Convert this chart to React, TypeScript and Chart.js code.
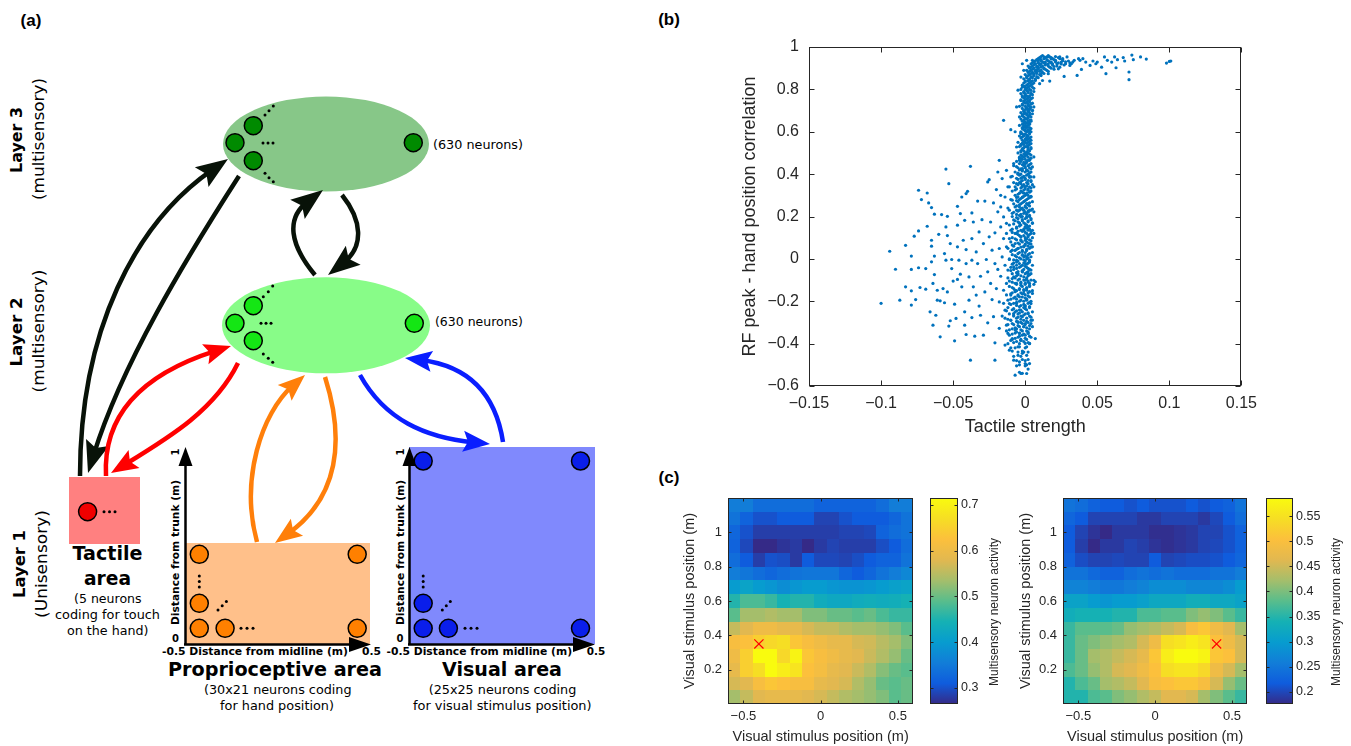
import React, { useEffect, useRef } from "react";
import { Chart, registerables } from "chart.js";

Chart.register(...registerables);

// ================= (b) scatter data =================
const scatterXTicks = [-0.15, -0.1, -0.05, 0, 0.05, 0.1, 0.15];
const scatterYTicks = [-0.6, -0.4, -0.2, 0, 0.2, 0.4, 0.6, 0.8, 1];

// [tactile strength, RF peak - hand position correlation]
const spreadPoints: [number, number][] = [
  [-0.1,-0.21],[-0.094,0.036],[-0.09,-0.049],[-0.087,-0.195],[-0.083,0.064],[-0.083,-0.132],[-0.079,0.013],[-0.079,-0.05],[-0.079,-0.151],[-0.079,-0.218],
  [-0.077,0.107],[-0.076,-0.192],[-0.074,0.324],[-0.074,0.132],[-0.074,-0.042],[-0.072,0.28],[-0.073,-0.135],[-0.069,-0.143],[-0.069,-0.046],[-0.068,0.311],
  [-0.068,0.154],[-0.067,0.264],[-0.066,-0.25],[-0.065,-0.014],[-0.065,0.06],[-0.065,0.088],[-0.065,0.242],[-0.064,-0.313],[-0.064,-0.116],[-0.063,0.013],
  [-0.063,0.211],[-0.063,-0.074],[-0.062,-0.266],[-0.061,-0.148],[-0.061,-0.195],[-0.06,0.116],[-0.059,-0.368],[-0.059,-0.198],[-0.058,0.209],[-0.057,-0.14],
  [-0.056,-0.207],[-0.056,0.025],[-0.055,0.424],[-0.055,0.151],[-0.055,-0.006],[-0.054,0.11],[-0.054,0.201],[-0.054,-0.156],[-0.053,-0.317],[-0.053,0.355],
  [-0.052,0.072],[-0.052,-0.292],[-0.051,-0.046],[-0.051,-0.003],[-0.05,-0.105],[-0.049,-0.214],[-0.049,-0.387],[-0.048,-0.281],[-0.047,0.248],[-0.047,-0.097],
  [-0.047,0.159],[-0.047,0.057],[-0.046,-0.006],[-0.045,-0.072],[-0.045,0.214],[-0.044,0.292],[-0.044,-0.132],[-0.043,0.088],[-0.042,-0.25],[-0.042,-0.313],
  [-0.042,0.182],[-0.041,-0.022],[-0.041,0.044],[-0.041,-0.357],[-0.041,0.308],[-0.04,0.319],[-0.039,-0.195],[-0.039,-0.085],[-0.038,0.437],[-0.038,-0.478],
  [-0.037,0.217],[-0.037,-0.006],[-0.037,-0.277],[-0.037,0.096],[-0.036,-0.132],[-0.036,0.174],[-0.035,-0.365],[-0.034,-0.171],[-0.034,0.033],[-0.033,-0.022],
  [-0.033,0.273],[-0.032,0.127],[-0.032,-0.223],[-0.031,-0.082],[-0.031,-0.266],[-0.03,0.185],[-0.029,0.072],[-0.029,-0.36],[-0.028,-0.156],[-0.028,0.273],
  [-0.027,-0.003],[-0.026,0.363],[-0.026,-0.061],[-0.026,-0.302],[-0.025,0.104],[-0.025,0.374],[-0.024,0.174],[-0.024,-0.116],[-0.023,-0.192],[-0.023,0.041],
  [-0.022,0.264],[-0.022,-0.273],[-0.021,-0.478],[-0.021,-0.022],[-0.021,0.123],[-0.021,-0.396],[-0.02,0.327],[-0.02,-0.14],[-0.019,0.41],[-0.019,0.222],
  [-0.019,-0.05],[-0.018,0.049],[-0.018,-0.328],[-0.018,0.465],[-0.018,-0.203],[-0.017,0.151],[-0.017,0.3],[-0.017,-0.082],[-0.017,0.245],[-0.016,0.379],
  [-0.016,0.009],[-0.016,-0.27],[-0.015,0.096],[-0.015,-0.148],[-0.015,0.654],[-0.015,0.198],[-0.014,-0.03],[-0.014,-0.407],[-0.014,0.292],[-0.014,-0.242],
  [-0.013,0.418],[-0.013,0.057],[-0.013,-0.116],[-0.013,-0.313],[-0.013,0.168],[-0.012,-0.352],[-0.012,0.34],[-0.012,-0.053],[-0.011,-0.211],[-0.011,0.23],
  [-0.011,0.096],[-0.011,-0.431],[-0.011,-0.003],[-0.01,-0.171],[-0.01,0.387],[-0.01,-0.289],[-0.01,0.61],[-0.01,0.135],[-0.009,-0.093],[-0.009,0.277],
  [-0.009,-0.376],[-0.009,0.041],[-0.008,0.45],[-0.008,-0.258],[-0.008,0.184],[-0.008,-0.038],[-0.008,-0.478],[-0.007,0.6],[-0.007,-0.148],[-0.007,0.072],
  [-0.007,-0.549],[-0.007,0.34],[-0.007,-0.336],[-0.006,0.717],[-0.006,0.23],[-0.006,-0.006],[-0.006,-0.211],[-0.006,0.528],[-0.006,0.12],[-0.006,-0.116],
  [-0.005,0.402],[-0.005,-0.415],[-0.005,-0.297],[-0.005,0.292],[-0.005,0.796],[-0.005,-0.069],[-0.005,0.049],[-0.004,0.168],[-0.004,-0.486],[-0.004,0.67],
  [-0.004,-0.179],[-0.004,0.473],[-0.004,-0.352],[-0.004,0.245],[-0.004,-0.022],[-0.003,0.858],[-0.003,-0.242],[-0.003,0.104],[-0.003,0.355],[-0.003,0.591],
  [-0.003,-0.116],[-0.003,-0.541],[-0.003,0.198],[-0.003,-0.384],[-0.003,0.748],[-0.002,0.017],[-0.002,0.426],[-0.002,-0.273],[-0.002,0.921],[-0.002,0.292],
  [-0.002,-0.061],[-0.002,0.544],[-0.002,-0.446],[-0.001,0.135],[-0.001,-0.163],[-0.001,0.685],[-0.001,0.387],[-0.001,-0.32],[-0.001,0.057],[-0.001,0.89],
  [-0.001,0.23],[0,-0.494],[0,-0.101],[0,0.497],[0,0.622],[0,0.151],[0,-0.226],[0,0.811],[0,0.34],[0,-0.022],[0,-0.399],[0,0.45],[0,0.088],[0,-0.305],[0,0.764],
  [0.001,0.261],[0.001,-0.148],[0.001,0.575],[0.001,-0.541],[0.001,0.937],[0.001,0.198],[0.001,0.009],[0.001,0.418],[0.001,-0.195],[0.002,0.701],
  [0.002,-0.352],[0.002,0.135],[0.002,0.528],[0.002,-0.069],[0.002,0.842],[0.002,0.324],[0.002,-0.258],[0.003,0.654],[0.003,0.072],[0.003,-0.494],
  [0.003,0.465],[0.003,-0.116],[0.003,0.905],[0.003,0.23],[0.003,-0.399],[0.003,0.606],[0.003,-0.006],[0.004,0.387],[0.004,-0.211],[0.004,0.78],
  [0.004,0.12],[0.004,-0.305],[0.004,0.292],[0.004,0.544],[0.004,-0.053],[0.005,0.168],[0.005,0.937],[0.005,0.434],[0.005,-0.163],[0.005,0.701],
  [0.005,0.057],[0.005,-0.289],[0.006,0.34],[0.006,0.874],[0.006,-0.101],[0.006,0.222],[0.006,0.481],[0.006,0.12],[0.006,0.387],[0.006,0.717],
  [0.007,-0.376],[0.007,-0.108],[0.007,0.921],[0.007,0.842],[0.008,0.89],[0.009,0.937],[0.009,0.905],[0.01,0.827],[0.01,0.945],[0.011,0.874],
  [0.011,0.921],[0.012,0.842],[0.013,0.953],[0.013,0.897],[0.014,0.929],[0.015,0.953],[0.016,0.874],[0.016,0.921],[0.017,0.839],[0.017,0.953],
  [0.018,0.929],[0.019,0.945],[0.02,0.908],[0.021,0.937],[0.022,0.921],[0.023,0.897],[0.024,0.953],[0.025,0.929],[0.026,0.945],[0.027,0.861],
  [0.028,0.921],[0.029,0.953],[0.03,0.934],[0.031,0.913],[0.032,0.921],[0.033,0.929],[0.034,0.937],[0.036,0.866],[0.037,0.945],[0.038,0.937],
  [0.039,0.894],[0.04,0.945],[0.042,0.929],[0.045,0.913],[0.047,0.934],[0.049,0.921],[0.05,0.929],[0.053,0.905],[0.055,0.953],[0.056,0.874],
  [0.057,0.937],[0.06,0.929],[0.062,0.953],[0.063,0.902],[0.064,0.94],[0.068,0.95],[0.069,0.934],[0.072,0.882],[0.072,0.846],[0.074,0.962],
  [0.075,0.94],[0.08,0.953],[0.084,0.943],[0.098,0.924],[0.1,0.932],[0.101,0.934],
];

// dense column near zero: [correlation, tactile strengths at that correlation]
const columnRows: [number, number[]][] = [
  [-0.54,[-0.002]],[-0.52,[0.002]],[-0.5,[-0.004,0.001]],[-0.48,[-0.006,0]],[-0.46,[-0.003,-0.008]],
  [-0.44,[0.002,-0.005,-0.001]],[-0.42,[-0.007,0,-0.01]],[-0.4,[-0.004,0.003,-0.012]],[-0.39,[-0.001,-0.006]],
  [-0.38,[0.001,-0.009,-0.003]],[-0.37,[-0.005,0.004]],[-0.36,[-0.002,-0.011,0]],[-0.35,[-0.007,0.002,-0.004]],
  [-0.34,[0.001,-0.013,-0.002]],[-0.33,[-0.006,0.003,-0.009]],[-0.32,[-0.001,-0.004,0.005]],[-0.31,[-0.008,0,-0.012]],
  [-0.3,[0.002,-0.005,-0.003]],[-0.29,[-0.01,0.004,-0.001]],[-0.28,[-0.006,0.001,-0.014]],[-0.27,[-0.003,0.003,-0.008]],
  [-0.26,[0,-0.011,-0.005]],[-0.25,[-0.002,0.005,-0.007]],[-0.24,[-0.009,0.001,-0.004]],[-0.23,[0.003,-0.001,-0.012]],
  [-0.22,[-0.006,0,-0.003]],[-0.21,[0.002,-0.008,-0.015]],[-0.2,[-0.004,0.004,-0.001]],[-0.19,[-0.01,0.001,-0.006]],
  [-0.18,[0.003,-0.002,-0.007]],[-0.17,[-0.005,0,-0.013]],[-0.16,[0.002,-0.009,-0.003]],[-0.15,[-0.001,0.005,-0.006]],
  [-0.14,[-0.008,0.001,-0.004]],[-0.13,[0.003,-0.002,-0.011]],[-0.12,[-0.006,0,0.006]],[-0.11,[-0.003,0.002,-0.009]],
  [-0.1,[0.004,-0.005,-0.001]],[-0.09,[-0.007,0.001,-0.012]],[-0.08,[0.002,-0.003,-0.006]],[-0.07,[-0.009,0,0.004]],
  [-0.06,[-0.002,-0.005,0.002]],[-0.05,[0.003,-0.008,-0.001]],[-0.04,[-0.004,0.001,-0.01]],[-0.03,[0.005,-0.002,-0.006]],
  [-0.02,[-0.001,0.002,-0.008]],[-0.01,[-0.005,0.003,0]],[0,[-0.003,0.001,-0.011]],[0.01,[0.004,-0.006,-0.001]],
  [0.02,[-0.002,0.002,-0.009]],[0.03,[0,-0.004,0.005]],[0.04,[-0.007,0.001,-0.002]],[0.05,[0.003,-0.005,-0.012]],
  [0.06,[-0.001,0.002,-0.008]],[0.07,[-0.004,0.004,0]],[0.08,[-0.01,-0.002,0.001]],[0.09,[0.003,-0.006,-0.003]],
  [0.1,[0,-0.009,0.005]],[0.11,[-0.004,0.002,-0.001]],[0.12,[-0.007,0.001,-0.013]],[0.13,[0.004,-0.002,-0.005]],
  [0.14,[-0.001,0.003,-0.009]],[0.15,[-0.006,0,0.002]],[0.16,[0.001,-0.003,-0.011]],[0.17,[-0.004,0.005,-0.001]],
  [0.18,[0.002,-0.007,-0.002]],[0.19,[-0.005,0,0.004]],[0.2,[-0.002,0.003,-0.009]],[0.21,[0.001,-0.006,-0.003]],
  [0.22,[-0.008,0.002,0]],[0.23,[0.004,-0.004,-0.001]],[0.24,[-0.002,0.001,-0.012]],[0.25,[-0.006,0.003,0]],
  [0.26,[0.002,-0.003,-0.008]],[0.27,[-0.001,0.005,-0.005]],[0.28,[-0.004,0.001,-0.01]],[0.29,[0.003,-0.002,-0.006]],
  [0.3,[-0.007,0,0.002]],[0.31,[0.001,-0.004,-0.001]],[0.32,[-0.003,0.004,-0.009]],[0.33,[0,-0.006,0.002]],
  [0.34,[-0.002,0.003,-0.011]],[0.35,[0.005,-0.005,-0.001]],[0.36,[-0.004,0.001,-0.008]],[0.37,[0.002,-0.002,0.004]],
  [0.38,[-0.006,0,-0.003]],[0.39,[0.003,-0.001,-0.009]],[0.4,[-0.003,0.002,-0.005]],[0.41,[0,0.004,-0.007]],
  [0.42,[-0.002,0.001,-0.004]],[0.43,[0.003,-0.005,0]],[0.44,[-0.001,0.002,-0.008]],[0.45,[-0.004,0.004,0]],
  [0.46,[0.001,-0.003,-0.006]],[0.47,[-0.002,0.003,0]],[0.48,[0.002,-0.004,-0.001]],[0.49,[-0.003,0.001,0.004]],
  [0.5,[0,-0.005,0.002]],[0.51,[-0.001,0.003,-0.003]],[0.52,[0.002,-0.002,0.004]],[0.53,[-0.004,0.001,0]],
  [0.54,[0.003,-0.001,-0.003]],[0.55,[0,0.002,-0.005]],[0.56,[-0.002,0.004,0.001]],[0.57,[0.001,-0.003,0.003]],
  [0.58,[-0.001,0.002,-0.004]],[0.59,[0.003,0,-0.002]],[0.6,[-0.003,0.001,0.004]],[0.61,[0.002,-0.001,0]],
  [0.62,[-0.002,0.003,0.001]],[0.63,[0,-0.004,0.002]],[0.64,[0.003,-0.001,0.001]],[0.65,[-0.002,0.002,0.004]],
  [0.66,[0.001,-0.003,0]],[0.67,[0.002,-0.001,0.004]],[0.68,[-0.002,0.001,0.003]],[0.69,[0,0.003,-0.003]],
  [0.7,[0.002,-0.001,0.005]],[0.71,[-0.002,0.001,0.003]],[0.72,[0,0.003,-0.004]],[0.73,[0.002,-0.002,0.004]],
  [0.74,[-0.001,0.001,0.003]],[0.75,[0.003,-0.003,0]],[0.76,[-0.001,0.002,0.005]],[0.77,[0.001,-0.002,0.003]],
  [0.78,[-0.003,0,0.004]],[0.79,[0.002,-0.001,0.006]],[0.8,[0,-0.003,0.003]],[0.81,[-0.002,0.002,0.005]],
  [0.82,[0.001,-0.002,0.004]],[0.83,[-0.001,0.003,0.006]],[0.84,[0.002,0,0.005]],[0.85,[-0.001,0.003,0.007]],
  [0.86,[0.001,0.004,0.008]],[0.87,[0,0.003,0.006,0.01]],[0.88,[0.002,0.005,0.008,0.012]],
  [0.89,[0.001,0.004,0.007,0.011,0.015]],[0.9,[0.003,0.006,0.009,0.013,0.018]],
  [0.91,[0.002,0.005,0.008,0.012,0.016,0.022]],[0.92,[0.004,0.007,0.01,0.014,0.019,0.025]],
  [0.93,[0.006,0.009,0.012,0.017,0.021,0.028]],[0.94,[0.008,0.011,0.015,0.02,0.026]],
  [0.95,[0.01,0.014,0.018,0.023]],[0.96,[0.012,0.016]],
];

// second interleaved set of column points
const columnRowsB: [number, number[]][] = [
  [-0.535,[-0.004]],[-0.505,[0,-0.006]],[-0.475,[-0.002,0.002]],[-0.455,[-0.005,0.001]],[-0.435,[-0.009,-0.002]],
  [-0.415,[0.001,-0.004]],[-0.395,[-0.008,0.002]],[-0.385,[-0.003,-0.01]],[-0.375,[0,-0.007]],[-0.365,[-0.004,0.003]],
  [-0.355,[-0.009,-0.001]],[-0.345,[0.002,-0.006]],[-0.335,[-0.003,-0.011]],[-0.325,[0.001,-0.007]],[-0.315,[-0.005,0.003]],
  [-0.305,[-0.002,-0.009]],[-0.295,[0.001,-0.006]],[-0.285,[-0.003,-0.012]],[-0.275,[0.004,-0.005]],[-0.265,[-0.008,-0.001]],
  [-0.255,[0.002,-0.004]],[-0.245,[-0.006,-0.013]],[-0.235,[0,-0.008]],[-0.225,[-0.004,0.003]],[-0.215,[-0.001,-0.01]],
  [-0.205,[0.003,-0.006]],[-0.195,[-0.003,-0.012]],[-0.185,[0,-0.008]],[-0.175,[-0.005,0.002]],[-0.165,[-0.002,-0.01]],
  [-0.155,[0.003,-0.007]],[-0.145,[-0.004,-0.001]],[-0.135,[0.001,-0.009]],[-0.125,[-0.003,0.003]],[-0.115,[-0.007,0]],
  [-0.105,[0.002,-0.011]],[-0.095,[-0.004,0.001]],[-0.085,[-0.001,-0.008]],[-0.075,[0.003,-0.005]],[-0.065,[-0.006,0.001]],
  [-0.055,[-0.002,-0.01]],[-0.045,[0.002,-0.006]],[-0.035,[-0.003,0]],[-0.025,[0.001,-0.009]],[-0.015,[-0.006,0.003]],
  [-0.005,[-0.001,-0.008]],[0.005,[0.002,-0.004]],[0.015,[-0.007,0]],[0.025,[0.003,-0.005]],[0.035,[-0.002,-0.01]],
  [0.045,[0.001,-0.006]],[0.055,[-0.003,0.004]],[0.065,[-0.009,0]],[0.075,[0.002,-0.005]],[0.085,[-0.003,0.004]],
  [0.095,[-0.007,0.001]],[0.105,[0.002,-0.003]],[0.115,[-0.005,0.003]],[0.125,[0,-0.009]],[0.135,[-0.003,0.005]],
  [0.145,[0.001,-0.006]],[0.155,[-0.004,0.003]],[0.165,[-0.008,0]],[0.175,[0.002,-0.005]],[0.185,[-0.002,0.004]],
  [0.195,[-0.006,0.001]],[0.205,[0.003,-0.004]],[0.215,[-0.001,-0.009]],[0.225,[0.002,-0.005]],[0.235,[-0.003,0.005]],
  [0.245,[0,-0.007]],[0.255,[-0.004,0.002]],[0.265,[0.003,-0.002]],[0.275,[-0.006,0]],[0.285,[0.002,-0.003]],
  [0.295,[-0.001,0.004]],[0.305,[-0.005,0.001]],[0.315,[0.003,-0.002]],[0.325,[-0.001,-0.007]],[0.335,[0.004,-0.003]],
  [0.345,[-0.002,0.001]],[0.355,[0.002,-0.006]],[0.365,[-0.003,0.004]],[0.375,[0,-0.005]],[0.385,[-0.002,0.003]],
  [0.395,[0.001,-0.004]],[0.405,[-0.005,0.003]],[0.415,[0.002,-0.002]],[0.425,[-0.003,0.004]],[0.435,[0,-0.006]],
  [0.445,[0.003,-0.002]],[0.455,[-0.001,0.001]],[0.465,[0.002,-0.004]],[0.475,[-0.003,0.004]],[0.485,[0,-0.002]],
  [0.495,[0.003,-0.001]],[0.505,[-0.003,0.001]],[0.515,[0.002,-0.002]],[0.525,[-0.001,0.004]],[0.535,[0.002,-0.003]],
  [0.545,[-0.002,0.001]],[0.555,[0.003,-0.001]],[0.565,[0,0.002]],[0.575,[-0.002,0.004]],[0.585,[0.001,-0.001]],
  [0.595,[0.003,-0.003]],[0.605,[0,0.002]],[0.615,[-0.002,0.004]],[0.625,[0.001,-0.001]],[0.635,[0.003,-0.002]],
  [0.645,[0,0.002]],[0.655,[-0.001,0.004]],[0.665,[0.002,0]],[0.675,[-0.002,0.003]],[0.685,[0.001,0.005]],
  [0.695,[-0.001,0.002]],[0.705,[0.003,0]],[0.715,[0.001,0.004]],[0.725,[-0.002,0.002]],[0.735,[0,0.005]],
  [0.745,[0.002,-0.001]],[0.755,[0.004,0.001]],[0.765,[-0.002,0.003]],[0.775,[0,0.005]],[0.785,[0.002,-0.001]],
  [0.795,[0.004,0.001]],[0.805,[0.001,0.006]],[0.815,[-0.001,0.003]],[0.825,[0.002,0.005]],[0.835,[0,0.004]],
  [0.845,[0.003,0.007]],[0.855,[0.001,0.005,0.009]],[0.865,[0.002,0.006,0.011]],[0.875,[0.004,0.008,0.013]],
  [0.885,[0.003,0.007,0.01,0.016]],[0.895,[0.005,0.009,0.014,0.02]],[0.905,[0.004,0.008,0.011,0.017,0.024]],
  [0.915,[0.006,0.01,0.014,0.019,0.027]],[0.925,[0.005,0.009,0.013,0.018,0.023,0.031]],
  [0.935,[0.007,0.011,0.016,0.021,0.026]],[0.945,[0.009,0.013,0.018,0.024]],[0.955,[0.011,0.016,0.021]],
];

// ================= (c) heat map data =================
const heatXCenters = [-0.56,-0.48,-0.4,-0.32,-0.24,-0.16,-0.08,0,0.08,0.16,0.24,0.32,0.4,0.48,0.56];
const heatYCenters = [1.16,1.08,1.0,0.92,0.84,0.76,0.68,0.6,0.52,0.44,0.36,0.28,0.2,0.12,0.04];
const heatXTicks = [-0.5, 0, 0.5];
const heatYTicks = [0.2, 0.4, 0.6, 0.8, 1];

const leftActivity = [
  [0.355,0.355,0.333,0.333,0.333,0.333,0.333,0.319,0.319,0.319,0.319,0.319,0.333,0.355,0.355],
  [0.342,0.319,0.301,0.301,0.31,0.31,0.31,0.288,0.288,0.301,0.31,0.31,0.31,0.324,0.342],
  [0.324,0.301,0.283,0.283,0.283,0.283,0.283,0.283,0.283,0.288,0.288,0.292,0.319,0.333,0.342],
  [0.319,0.292,0.265,0.265,0.274,0.279,0.265,0.279,0.288,0.283,0.283,0.283,0.297,0.31,0.333],
  [0.333,0.31,0.283,0.301,0.297,0.279,0.31,0.292,0.292,0.288,0.297,0.31,0.319,0.319,0.342],
  [0.355,0.346,0.333,0.324,0.333,0.342,0.346,0.346,0.346,0.324,0.31,0.324,0.342,0.355,0.369],
  [0.4,0.414,0.4,0.391,0.378,0.391,0.4,0.4,0.391,0.387,0.387,0.391,0.4,0.409,0.414],
  [0.454,0.481,0.481,0.468,0.445,0.454,0.454,0.432,0.423,0.423,0.432,0.436,0.432,0.436,0.445],
  [0.49,0.535,0.535,0.544,0.535,0.535,0.513,0.513,0.499,0.499,0.49,0.499,0.481,0.468,0.468],
  [0.558,0.58,0.603,0.603,0.589,0.589,0.571,0.558,0.558,0.544,0.535,0.535,0.526,0.513,0.49],
  [0.616,0.625,0.648,0.661,0.67,0.634,0.616,0.603,0.589,0.589,0.571,0.567,0.549,0.535,0.513],
  [0.603,0.648,0.715,0.715,0.661,0.702,0.634,0.616,0.603,0.589,0.58,0.562,0.544,0.526,0.499],
  [0.589,0.648,0.67,0.715,0.693,0.679,0.625,0.612,0.589,0.58,0.562,0.544,0.517,0.499,0.49],
  [0.571,0.58,0.616,0.634,0.625,0.616,0.616,0.589,0.58,0.571,0.544,0.526,0.499,0.49,0.499],
  [0.535,0.558,0.58,0.589,0.589,0.589,0.58,0.571,0.558,0.544,0.535,0.526,0.513,0.49,0.499],
];

const rightActivity = [
  [0.246,0.238,0.225,0.217,0.217,0.209,0.217,0.209,0.209,0.209,0.217,0.209,0.217,0.225,0.246],
  [0.229,0.217,0.197,0.197,0.197,0.197,0.188,0.188,0.197,0.197,0.197,0.188,0.201,0.217,0.238],
  [0.217,0.197,0.184,0.176,0.188,0.188,0.188,0.18,0.18,0.184,0.188,0.197,0.197,0.209,0.225],
  [0.217,0.192,0.176,0.188,0.188,0.197,0.192,0.184,0.18,0.184,0.188,0.197,0.201,0.209,0.225],
  [0.225,0.205,0.197,0.197,0.201,0.197,0.197,0.217,0.197,0.201,0.205,0.205,0.209,0.217,0.229],
  [0.246,0.246,0.233,0.225,0.225,0.238,0.246,0.238,0.246,0.238,0.238,0.238,0.246,0.246,0.258],
  [0.266,0.266,0.258,0.25,0.25,0.258,0.266,0.279,0.279,0.279,0.27,0.27,0.27,0.279,0.299],
  [0.311,0.311,0.299,0.291,0.299,0.299,0.307,0.32,0.32,0.32,0.332,0.332,0.32,0.32,0.311],
  [0.332,0.34,0.34,0.34,0.348,0.348,0.373,0.373,0.381,0.381,0.402,0.414,0.402,0.381,0.361],
  [0.361,0.381,0.381,0.381,0.389,0.414,0.422,0.43,0.443,0.455,0.496,0.512,0.484,0.463,0.422],
  [0.361,0.389,0.402,0.414,0.422,0.43,0.455,0.484,0.545,0.553,0.566,0.553,0.504,0.484,0.455],
  [0.361,0.389,0.422,0.43,0.443,0.455,0.471,0.512,0.566,0.586,0.586,0.574,0.512,0.504,0.455],
  [0.373,0.389,0.414,0.43,0.455,0.463,0.484,0.504,0.545,0.553,0.553,0.537,0.484,0.455,0.422],
  [0.348,0.373,0.389,0.422,0.43,0.443,0.463,0.496,0.504,0.512,0.512,0.496,0.455,0.414,0.389],
  [0.348,0.348,0.373,0.381,0.402,0.414,0.43,0.443,0.463,0.463,0.455,0.422,0.402,0.381,0.361],
];

const leftRange = [0.265, 0.715];
const rightRange = [0.176, 0.586];
const leftBarTicks = [0.3, 0.4, 0.5, 0.6, 0.7];
const rightBarTicks = [0.2, 0.25, 0.3, 0.35, 0.4, 0.45, 0.5, 0.55];
const leftPeak = { x: -0.4, y: 0.35 };
const rightPeak = { x: 0.4, y: 0.35 };

// ================= helpers =================
const FONT = "'Liberation Sans', Arial, Helvetica, sans-serif";
const DIAG_FONT = "'DejaVu Sans', sans-serif";
const TXT = "#262626";

const PARULA = [
  [53,42,135],[15,92,221],[18,125,216],[7,156,207],[21,177,180],[89,189,140],
  [165,190,107],[226,184,80],[252,192,60],[246,222,36],[249,251,14],
];
function parula(t: number) {
  const tt = Math.max(0, Math.min(1, t)) * 10;
  const i = Math.min(9, Math.floor(tt));
  const f = tt - i;
  const a = PARULA[i], b = PARULA[i + 1];
  const c = a.map((v, k) => Math.round(v + (b[k] - v) * f));
  return `rgb(${c[0]},${c[1]},${c[2]})`;
}

function fmt(v: number) {
  const r = Math.round(v * 1000) / 1000;
  return (r < 0 ? "\u2212" : "") + String(Math.abs(r));
}

function boxPlugin(xTicks: number[], yTicks: number[], len: number) {
  return {
    id: "box",
    afterDatasetsDraw(chart: any) {
      const { ctx, chartArea: a, scales } = chart;
      const x = scales.x, y = scales.y;
      ctx.save();
      ctx.strokeStyle = TXT;
      ctx.lineWidth = 1;
      const L = Math.round(a.left) + 0.5, R = Math.round(a.right) - 0.5;
      const T = Math.round(a.top) + 0.5, B = Math.round(a.bottom) - 0.5;
      ctx.strokeRect(L, T, R - L, B - T);
      ctx.beginPath();
      for (const v of xTicks) {
        const px = Math.round(x.getPixelForValue(v)) + 0.5;
        ctx.moveTo(px, B); ctx.lineTo(px, B - len);
        ctx.moveTo(px, T); ctx.lineTo(px, T + len);
      }
      for (const v of yTicks) {
        const py = Math.round(y.getPixelForValue(v)) + 0.5;
        ctx.moveTo(L, py); ctx.lineTo(L + len, py);
        ctx.moveTo(R, py); ctx.lineTo(R - len, py);
      }
      ctx.stroke();
      ctx.restore();
    },
  };
}

function heatPlugin(values: number[][], range: number[]) {
  return {
    id: "heatcells",
    beforeDatasetsDraw(chart: any) {
      const { ctx, scales } = chart;
      const x = scales.x, y = scales.y;
      const hw = (heatXCenters[1] - heatXCenters[0]) / 2;
      const hh = (heatYCenters[0] - heatYCenters[1]) / 2;
      ctx.save();
      for (let r = 0; r < heatYCenters.length; r++) {
        for (let c = 0; c < heatXCenters.length; c++) {
          const L = Math.round(x.getPixelForValue(heatXCenters[c] - hw));
          const R = Math.round(x.getPixelForValue(heatXCenters[c] + hw));
          const T = Math.round(y.getPixelForValue(heatYCenters[r] + hh));
          const B = Math.round(y.getPixelForValue(heatYCenters[r] - hh));
          ctx.fillStyle = parula((values[r][c] - range[0]) / (range[1] - range[0]));
          ctx.fillRect(L, T, R - L, B - T);
        }
      }
      ctx.restore();
    },
  };
}

function colorbarPlugin(ticks: number[], labelX: number, labelY: number) {
  return {
    id: "colorbar",
    beforeDatasetsDraw(chart: any) {
      const { ctx, chartArea: a } = chart;
      const g = ctx.createLinearGradient(0, a.bottom, 0, a.top);
      PARULA.forEach((c, i) => g.addColorStop(i / 10, `rgb(${c[0]},${c[1]},${c[2]})`));
      ctx.save();
      ctx.fillStyle = g;
      ctx.fillRect(a.left, a.top, a.right - a.left, a.bottom - a.top);
      ctx.restore();
    },
    afterDraw(chart: any) {
      const { ctx, chartArea: a, scales } = chart;
      const y = scales.y;
      ctx.save();
      ctx.strokeStyle = TXT;
      ctx.lineWidth = 1;
      const L = Math.round(a.left) + 0.5, R = Math.round(a.right) - 0.5;
      const T = Math.round(a.top) + 0.5, B = Math.round(a.bottom) - 0.5;
      ctx.strokeRect(L, T, R - L, B - T);
      ctx.beginPath();
      for (const v of ticks) {
        const py = Math.round(y.getPixelForValue(v)) + 0.5;
        ctx.moveTo(L, py); ctx.lineTo(L + 3, py);
        ctx.moveTo(R, py); ctx.lineTo(R - 3, py);
      }
      ctx.stroke();
      ctx.translate(labelX, labelY);
      ctx.rotate(-Math.PI / 2);
      ctx.fillStyle = TXT;
      ctx.font = `12px ${FONT}`;
      ctx.textAlign = "center";
      ctx.textBaseline = "middle";
      ctx.fillText("Multisensory neuron activity", 0, 0);
      ctx.restore();
    },
  };
}

function ChartCanvas({ left, top, width, height, make }: any) {
  const ref = useRef<HTMLCanvasElement>(null);
  useEffect(() => {
    const chart = new Chart(ref.current as HTMLCanvasElement, make());
    return () => chart.destroy();
  }, []);
  return (
    <canvas
      ref={ref}
      width={width}
      height={height}
      style={{ position: "absolute", left, top, width, height }}
    />
  );
}

function scatterConfig(): any {
  const pts: { x: number; y: number }[] = spreadPoints.map(([x, y]) => ({ x, y }));
  columnRows.forEach(([y, xs]) => xs.forEach((x) => pts.push({ x, y })));
  columnRowsB.forEach(([y, xs]) => xs.forEach((x) => pts.push({ x, y })));
  return {
    type: "scatter",
    data: {
      datasets: [
        { data: pts, pointRadius: 1.6, pointHoverRadius: 1.6, backgroundColor: "#0072BD", borderWidth: 0 },
      ],
    },
    options: {
      responsive: false,
      animation: false,
      events: [],
      layout: { padding: { top: 20, right: 20, left: 0, bottom: 0 } },
      plugins: { legend: { display: false }, tooltip: { enabled: false } },
      scales: {
        x: {
          type: "linear", min: -0.15, max: 0.15,
          grid: { display: false, drawTicks: false }, border: { display: false },
          afterBuildTicks: (s: any) => { s.ticks = scatterXTicks.map((v) => ({ value: v })); },
          ticks: { padding: 8, font: { family: FONT, size: 16 }, color: TXT, callback: (v: number) => fmt(v), maxRotation: 0, autoSkip: false },
          title: { display: true, text: "Tactile strength", font: { family: FONT, size: 18 }, color: TXT, padding: { top: 0, bottom: 8 } },
          afterFit: (s: any) => { s.height = 60; },
        },
        y: {
          type: "linear", min: -0.6, max: 1,
          grid: { display: false, drawTicks: false }, border: { display: false },
          afterBuildTicks: (s: any) => { s.ticks = scatterYTicks.map((v) => ({ value: v })); },
          ticks: { padding: 10, font: { family: FONT, size: 16 }, color: TXT, callback: (v: number) => fmt(v), autoSkip: false },
          title: { display: true, text: "RF peak - hand position correlation", font: { family: FONT, size: 18 }, color: TXT, padding: { top: 19, bottom: 0 } },
          afterFit: (s: any) => { s.width = 89; },
        },
      },
    },
    plugins: [boxPlugin(scatterXTicks, scatterYTicks, 5)],
  };
}

function heatConfig(values: number[][], range: number[], peak: any, yAxisW: number, yTitlePad: number): any {
  return {
    type: "scatter",
    data: {
      datasets: [
        { data: [peak], pointStyle: "crossRot", pointRadius: 6.5, pointHoverRadius: 6.5, borderColor: "#FF0000", backgroundColor: "#FF0000", borderWidth: 1.2 },
      ],
    },
    options: {
      responsive: false,
      animation: false,
      events: [],
      layout: { padding: { top: 14, right: 6, left: 0, bottom: 0 } },
      plugins: { legend: { display: false }, tooltip: { enabled: false } },
      scales: {
        x: {
          type: "linear", min: -0.6, max: 0.6,
          grid: { display: false, drawTicks: false }, border: { display: false },
          afterBuildTicks: (s: any) => { s.ticks = heatXTicks.map((v) => ({ value: v })); },
          ticks: { padding: 5, font: { family: FONT, size: 13 }, color: TXT, callback: (v: number) => fmt(v), maxRotation: 0, autoSkip: false },
          title: { display: true, text: "Visual stimulus position (m)", font: { family: FONT, size: 14.5 }, color: TXT, padding: { top: 0, bottom: 0 } },
          afterFit: (s: any) => { s.height = 42; },
        },
        y: {
          type: "linear", min: 0, max: 1.2,
          grid: { display: false, drawTicks: false }, border: { display: false },
          afterBuildTicks: (s: any) => { s.ticks = heatYTicks.map((v) => ({ value: v })); },
          ticks: { padding: 6, font: { family: FONT, size: 13 }, color: TXT, callback: (v: number) => fmt(v), autoSkip: false },
          title: { display: true, text: "Visual stimulus position (m)", font: { family: FONT, size: 14.5 }, color: TXT, padding: { top: yTitlePad, bottom: 0 } },
          afterFit: (s: any) => { s.width = yAxisW; },
        },
      },
    },
    plugins: [heatPlugin(values, range), boxPlugin(heatXTicks, heatYTicks, 3)],
  };
}

function colorbarConfig(range: number[], ticks: number[], padLeft: number, axisW: number, labelX: number): any {
  return {
    type: "scatter",
    data: { datasets: [] },
    options: {
      responsive: false,
      animation: false,
      events: [],
      layout: { padding: { top: 14, right: 0, left: padLeft, bottom: 42 } },
      plugins: { legend: { display: false }, tooltip: { enabled: false } },
      scales: {
        x: { display: false, min: 0, max: 1 },
        y: {
          position: "right", type: "linear", min: range[0], max: range[1],
          grid: { display: false, drawTicks: false }, border: { display: false },
          afterBuildTicks: (s: any) => { s.ticks = ticks.map((v) => ({ value: v })); },
          ticks: { padding: 3, font: { family: FONT, size: 12.5 }, color: TXT, callback: (v: number) => fmt(v), autoSkip: false },
          afterFit: (s: any) => { s.width = axisW; },
        },
      },
    },
    plugins: [colorbarPlugin(ticks, labelX, 128)],
  };
}

// ================= diagram (a) =================
type P = [number, number];
function Arrow({ p0, p1, p2, p3, color, w = 4.5, len = 28, half = 10.5 }: any) {
  const dx = p3[0] - p2[0], dy = p3[1] - p2[1];
  const L = Math.hypot(dx, dy);
  const ux = dx / L, uy = dy / L, nx = -uy, ny = ux;
  const back = len * 0.6;
  const e: P = [p3[0] - ux * back, p3[1] - uy * back];
  const c2: P = [p2[0] - ux * back * 0.3, p2[1] - uy * back * 0.3];
  const d = `M${p0[0]},${p0[1]} C${p1[0]},${p1[1]} ${c2[0]},${c2[1]} ${e[0]},${e[1]}`;
  const bx = p3[0] - ux * len, by = p3[1] - uy * len;
  const mx = p3[0] - ux * len * 0.82, my = p3[1] - uy * len * 0.82;
  const head = `M${p3[0]},${p3[1]} L${bx + nx * half},${by + ny * half} L${mx},${my} L${bx - nx * half},${by - ny * half} Z`;
  return (
    <g>
      <path d={d} fill="none" stroke={color} strokeWidth={w} />
      <path d={head} fill={color} />
    </g>
  );
}

function Neuron({ c, fill }: any) {
  return <circle cx={c[0]} cy={c[1]} r={9} fill={fill} stroke="#000" strokeWidth={1.5} />;
}

function Dots({ pts }: any) {
  return (
    <g>
      {pts.map((p: P, i: number) => (
        <circle key={i} cx={p[0]} cy={p[1]} r={1.5} fill="#000" />
      ))}
    </g>
  );
}

function T({ x, y, s, len, bold, rot, children, family }: any) {
  return (
    <text
      x={rot ? 0 : x}
      y={rot ? 0 : y}
      transform={rot ? `translate(${x},${y}) rotate(-90)` : undefined}
      fontFamily={family || DIAG_FONT}
      fontSize={s}
      fontWeight={bold ? "bold" : "normal"}
      textAnchor="middle"
      dominantBaseline="central"
      textLength={len}
      lengthAdjust={len ? "spacingAndGlyphs" : undefined}
      fill="#000"
    >
      {children}
    </text>
  );
}

function Diagram() {
  const BLACK = "#081208";
  const RED = "#FF0000";
  const ORANGE = "#FF7F0A";
  const BLUE = "#0A1EFF";
  return (
    <svg width={1351} height={746} style={{ position: "absolute", left: 0, top: 0 }}>
      {/* panel letters */}
      <T x={31} y={20} s={17} bold family={FONT}>(a)</T>
      <T x={669} y={19} s={17} bold family={FONT}>(b)</T>
      <T x={669} y={477} s={17} bold family={FONT}>(c)</T>

      {/* layer labels */}
      <T x={17} y={140} s={15} bold rot len={66}>Layer 3</T>
      <T x={39} y={139} s={15} rot len={122}>(multisensory)</T>
      <T x={17} y={332} s={15} bold rot len={69}>Layer 2</T>
      <T x={39} y={331} s={15} rot len={123}>(multisensory)</T>
      <T x={19.5} y={564} s={15} bold rot len={68}>Layer 1</T>
      <T x={42} y={564} s={15} rot len={108}>(Unisensory)</T>

      {/* areas */}
      <rect x={69} y={477} width={71} height={67} fill="#FF8080" />
      <rect x={185} y={543} width={185} height={101} fill="#FFC08A" />
      <rect x={409} y={447} width={186} height={197} fill="#8089FD" />

      {/* ellipses */}
      <ellipse cx={326} cy={144} rx={103} ry={47.5} fill="#87C788" />
      <ellipse cx={326} cy={325.3} rx={104} ry={48} fill="#88FC88" />

      {/* arrows */}
      <Arrow p0={[80, 476]} p1={[80, 330]} p2={[140, 220]} p3={[228, 159]} color={BLACK} len={32} half={12} />
      <Arrow p0={[239, 176]} p1={[185, 260]} p2={[120, 370]} p3={[88, 473]} color={BLACK} len={32} half={12} />
      <Arrow p0={[315, 275]} p1={[290, 245]} p2={[290, 215]} p3={[323, 190]} color={BLACK} len={32} half={12} />
      <Arrow p0={[342, 195]} p1={[362, 220]} p2={[360, 250]} p3={[328, 275]} color={BLACK} len={32} half={12} />
      <Arrow p0={[106, 476]} p1={[103, 420]} p2={[140, 375]} p3={[231, 346]} color={RED} len={27} half={10.5} />
      <Arrow p0={[238, 363]} p1={[215, 410]} p2={[165, 440]} p3={[111, 473]} color={RED} len={27} half={10.5} />
      <Arrow p0={[257, 542]} p1={[240, 480]} p2={[265, 410]} p3={[305, 375]} color={ORANGE} len={27} half={10.5} />
      <Arrow p0={[325, 377]} p1={[345, 440]} p2={[335, 500]} p3={[275, 543]} color={ORANGE} len={27} half={10.5} />
      <Arrow p0={[360, 375]} p1={[385, 420]} p2={[430, 438]} p3={[490, 444]} color={BLUE} len={27} half={10.5} />
      <Arrow p0={[503, 442]} p1={[495, 390]} p2={[460, 365]} p3={[405, 358]} color={BLUE} len={27} half={10.5} />

      {/* layer 3 neurons */}
      <Neuron c={[235, 142.7]} fill="#008A00" />
      <Neuron c={[253.3, 125.7]} fill="#008A00" />
      <Neuron c={[253.3, 160.7]} fill="#008A00" />
      <Neuron c={[413.3, 142.7]} fill="#008A00" />
      <Dots pts={[[265, 115], [269, 110.7], [273.3, 106], [263, 143], [268, 143], [273, 143], [265, 173.3], [269, 177.7], [273.3, 181.7]]} />
      <T x={478} y={145} s={11.5} len={90}>(630 neurons)</T>

      {/* layer 2 neurons */}
      <Neuron c={[235, 323.3]} fill="#14E614" />
      <Neuron c={[253.3, 305.7]} fill="#14E614" />
      <Neuron c={[253.3, 340.7]} fill="#14E614" />
      <Neuron c={[414.3, 323.3]} fill="#14E614" />
      <Dots pts={[[263.3, 296.7], [268.3, 291.7], [272.7, 286], [261, 323.3], [266, 323.3], [271, 323.3], [263.3, 354], [268.3, 358.3], [272.7, 362.3]]} />
      <T x={479} y={322} s={11.5} len={88}>(630 neurons)</T>

      {/* tactile */}
      <Neuron c={[87.6, 511.7]} fill="#F00000" />
      <Dots pts={[[104, 511.7], [109.5, 511.7], [115, 511.7]]} />
      <T x={107.5} y={553} s={20} bold len={70}>Tactile</T>
      <T x={107.5} y={578} s={20} bold len={47}>area</T>
      <T x={107.8} y={598} s={12.5} len={67.5}>(5 neurons</T>
      <T x={107.5} y={614} s={12.5} len={105}>coding for touch</T>
      <T x={107.8} y={630} s={12.5} len={81.5}>on the hand)</T>

      {/* proprioceptive axes */}
      <line x1={185.5} y1={645} x2={185.5} y2={462} stroke="#000" strokeWidth={2.5} />
      <path d="M185.5,447 L178.5,466 L192.5,466 Z" fill="#000" />
      <line x1={184} y1={644.5} x2={352} y2={644.5} stroke="#000" strokeWidth={2.5} />
      <path d="M371,644.5 L349,637 L349,652 Z" fill="#000" />
      <T x={175} y={452} s={10} bold rot>1</T>
      <T x={175.5} y={638} s={10} bold>0</T>
      <T x={175} y={552.5} s={10} bold rot len={145}>Distance from trunk (m)</T>
      <T x={255} y={651} s={10} bold len={186}>-0.5 Distance from midline (m)</T>
      <T x={371.5} y={651} s={10} bold len={19}>0.5</T>
      {[[199.3, 554.3], [357.2, 554.3], [199.3, 603.3], [199.3, 628.3], [225.1, 628.3], [357.2, 628.3]].map((c, i) => (
        <Neuron key={i} c={c} fill="#FF8000" />
      ))}
      <Dots pts={[[199.3, 576], [199.3, 581.5], [199.3, 587], [218, 610], [222.2, 605.7], [226.4, 601.4], [241, 628.3], [247, 628.3], [253, 628.3]]} />
      <T x={275} y={669} s={19} bold len={214}>Proprioceptive area</T>
      <T x={277.8} y={689} s={12.5} len={147.6}>(30x21 neurons coding</T>
      <T x={277} y={705} s={12.5} len={114}>for hand position)</T>

      {/* visual axes */}
      <line x1={409.5} y1={645} x2={409.5} y2={462} stroke="#000" strokeWidth={2.5} />
      <path d="M409.5,447 L402.5,466 L416.5,466 Z" fill="#000" />
      <line x1={408} y1={644.5} x2={576} y2={644.5} stroke="#000" strokeWidth={2.5} />
      <path d="M595,644.5 L573,637 L573,652 Z" fill="#000" />
      <T x={400} y={452} s={10} bold rot>1</T>
      <T x={400} y={638} s={10} bold>0</T>
      <T x={400} y={552.5} s={10} bold rot len={145}>Distance from trunk (m)</T>
      <T x={479.3} y={651} s={10} bold len={185.5}>-0.5 Distance from midline (m)</T>
      <T x={596} y={651} s={10} bold len={18.5}>0.5</T>
      {[[423.2, 461], [580.5, 461], [423.2, 603.3], [423.2, 628.3], [448.4, 628.3], [580.5, 628.3]].map((c, i) => (
        <Neuron key={i} c={c} fill="#0A1EEB" />
      ))}
      <Dots pts={[[423.2, 576], [423.2, 581.5], [423.2, 587], [442.3, 610], [446.3, 605.7], [450.3, 601.4], [465, 628.3], [471, 628.3], [477, 628.3]]} />
      <T x={502} y={669} s={19} bold len={120}>Visual area</T>
      <T x={502.5} y={689} s={12.5} len={147.7}>(25x25 neurons coding</T>
      <T x={502.3} y={705} s={12.5} len={178.6}>for visual stimulus position)</T>
    </svg>
  );
}

export default function App() {
  return (
    <div style={{ position: "absolute", left: 0, top: 0, width: 1351, height: 746, background: "#fff", overflow: "hidden" }}>
      <Diagram />
      <ChartCanvas left={720} top={27} width={545} height={419} make={scatterConfig} />
      <ChartCanvas left={672} top={484} width={249} height={262} make={() => heatConfig(leftActivity, leftRange, leftPeak, 56, 9)} />
      <ChartCanvas left={925} top={484} width={85} height={262} make={() => colorbarConfig(leftRange, leftBarTicks, 5, 52, 70)} />
      <ChartCanvas left={1005} top={484} width={250} height={262} make={() => heatConfig(rightActivity, rightRange, rightPeak, 58, 12)} />
      <ChartCanvas left={1262} top={484} width={89} height={262} make={() => colorbarConfig(rightRange, rightBarTicks, 4, 58, 75)} />
    </div>
  );
}
